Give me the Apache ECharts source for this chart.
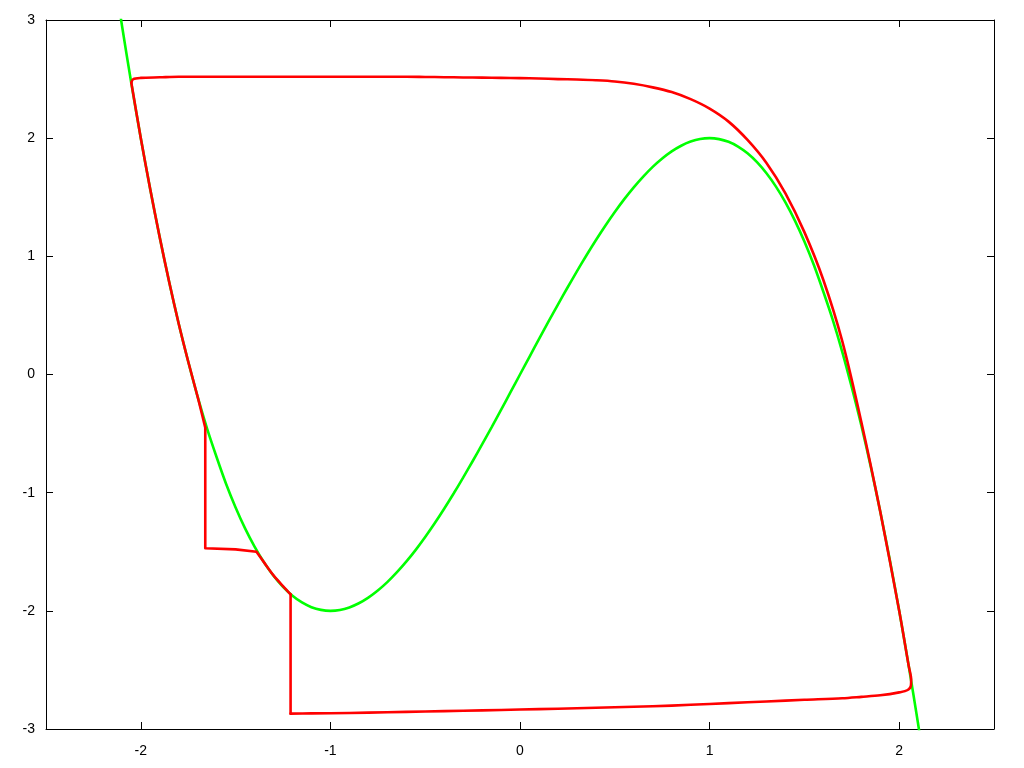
<!DOCTYPE html>
<html>
<head>
<meta charset="utf-8">
<script src="https://cdn.jsdelivr.net/npm/echarts@6/dist/echarts.min.js"></script>
<style>
html,body{margin:0;padding:0;background:#fff;}
#chart{width:1024px;height:768px;}
</style>
</head>
<body>
<div id="chart"></div>
<script>
// Green curve: points (x, y)
const greenX = [-2.2,-2.15,-2.1,-2.05,-2.0,-1.95,-1.9,-1.85,-1.8,-1.75,-1.7,-1.65,-1.6,-1.55,-1.5,-1.45,-1.4,-1.35,-1.3,-1.25,-1.2,-1.15,-1.1,-1.05,-1.0,-0.95,-0.9,-0.85,-0.8,-0.75,-0.7,-0.65,-0.6,-0.55,-0.5,-0.45,-0.4,-0.35,-0.3,-0.25,-0.2,-0.15,-0.1,-0.05,0.0,0.05,0.1,0.15,0.2,0.25,0.3,0.35,0.4,0.45,0.5,0.55,0.6,0.65,0.7,0.75,0.8,0.85,0.9,0.95,1.0,1.05,1.1,1.15,1.2,1.25,1.3,1.35,1.4,1.45,1.5,1.55,1.6,1.65,1.7,1.75,1.8,1.85,1.9,1.95,2.0,2.05,2.1,2.15,2.2];
const greenY = [4.05,3.49,2.96,2.465,2.0,1.565,1.16,0.78,0.43,0.11,-0.19,-0.46,-0.70,-0.926,-1.125,-1.302,-1.456,-1.590,-1.703,-1.797,-1.872,-1.929,-1.969,-1.992,-2.0,-1.993,-1.971,-1.936,-1.888,-1.828,-1.757,-1.675,-1.584,-1.484,-1.375,-1.259,-1.136,-1.007,-0.873,-0.734,-0.592,-0.447,-0.299,-0.150,0.0,0.150,0.299,0.447,0.592,0.734,0.873,1.007,1.136,1.259,1.375,1.484,1.584,1.675,1.757,1.828,1.888,1.936,1.971,1.993,2.0,1.992,1.969,1.929,1.872,1.797,1.703,1.590,1.456,1.302,1.125,0.926,0.70,0.46,0.19,-0.11,-0.43,-0.78,-1.16,-1.565,-2.0,-2.465,-2.96,-3.49,-4.05];

// Red closed path, in pieces
// top plateau, right branch, bottom return
const redArcX = [-2.05,-2.04,-2.0,-1.9,-1.8,-1.7,-1.6,-1.5,-1.4,-1.3,-1.2,-1.1,-1.0,-0.9,-0.8,-0.7,-0.6,-0.5,-0.4,-0.3,-0.2,-0.1,0.0,0.1,0.2,0.3,0.4,0.5,0.6,0.7,0.8,0.9,1.0,1.1,1.2,1.3,1.4,1.5,1.6,1.7,1.8,1.9,2.0,2.05,2.063,2.062,2.045,2.0,1.9,1.8,1.7,1.5,1.3,1.1,0.9,0.7,0.5,0.3,0.1,-0.1,-0.3,-0.5,-0.7,-0.9,-1.1,-1.21];
const redArcY = [2.47,2.50,2.51,2.515,2.52,2.52,2.52,2.52,2.52,2.52,2.52,2.52,2.52,2.52,2.52,2.52,2.52,2.518,2.516,2.514,2.512,2.51,2.508,2.505,2.50,2.496,2.49,2.48,2.46,2.43,2.39,2.33,2.25,2.14,1.985,1.79,1.533,1.205,0.80,0.28,-0.40,-1.16,-2.0,-2.465,-2.58,-2.63,-2.67,-2.69,-2.715,-2.728,-2.74,-2.753,-2.767,-2.781,-2.795,-2.808,-2.816,-2.824,-2.832,-2.839,-2.846,-2.852,-2.858,-2.864,-2.868,-2.87];
// first jump up
const redJump1X = [-1.21,-1.21];
const redJump1Y = [-2.87,-1.86];
// short run along the green curve
const redRun1X = [-1.21,-1.25,-1.30,-1.35,-1.39];
const redRun1Y = [-1.86,-1.79,-1.70,-1.59,-1.50];
// short step left and second jump up
const redJump2X = [-1.39,-1.50,-1.66,-1.66];
const redJump2Y = [-1.50,-1.48,-1.47,-0.45];
// run up the left branch back to the start
const redRun2X = [-1.66,-1.70,-1.75,-1.80,-1.85,-1.90,-1.95,-2.00,-2.05];
const redRun2Y = [-0.45,-0.19,0.11,0.43,0.78,1.16,1.565,2.0,2.47];

// Tick values
const xTicks = [-2,-1,0,1,2];
const yTicks = [-3,-2,-1,0,1,2,3];

const pairs = (xs, ys) => xs.map((x,i)=>[x, ys[i]]);

const font = {fontFamily:'Liberation Sans', fontSize:14, color:'#000'};
const chart = echarts.init(document.getElementById('chart'), null, {renderer:'canvas'});

function xAxis(pos, show){
  return {
    type:'value', position:pos, min:-2.5, max:2.5, splitNumber:5,
    axisLine:{show:true, onZero:false, lineStyle:{color:'#000', width:1}},
    axisTick:{show:true, inside:true, length:7, lineStyle:{color:'#000'}},
    splitLine:{show:false},
    axisLabel:Object.assign({show:show, margin:15,
      formatter:v=> xTicks.indexOf(Math.round(v*1000)/1000) >= 0 ? String(v) : ''}, font)
  };
}
function yAxis(pos, show){
  return {
    type:'value', position:pos, min:-3, max:3, interval:1,
    axisLine:{show:true, onZero:false, lineStyle:{color:'#000', width:1}},
    axisTick:{show:true, inside:true, length:7, lineStyle:{color:'#000'}},
    splitLine:{show:false},
    axisLabel:Object.assign({show:show, margin:11,
      formatter:v=> yTicks.indexOf(v) >= 0 ? String(v) : ''}, font)
  };
}

const redStyle = {color:'#ff0000', width:2.6, join:'round', cap:'round'};
function redSeries(data, smooth){
  return {type:'line', data:data, showSymbol:false, smooth:smooth, clip:true, z:3,
          lineStyle:redStyle, itemStyle:{color:'#ff0000'}};
}

chart.setOption({
  animation:false,
  backgroundColor:'#fff',
  grid:{left:46, right:30, top:20, bottom:39, containLabel:false},
  xAxis:[xAxis('bottom', true), xAxis('top', false)],
  yAxis:[yAxis('left', true), yAxis('right', false)],
  series:[
    {type:'line', data:pairs(greenX, greenY), showSymbol:false, smooth:0.3, clip:true, z:2,
     lineStyle:{color:'#00ff00', width:2.6}, itemStyle:{color:'#00ff00'}},
    redSeries(pairs(redArcX, redArcY), 0.3),
    redSeries(pairs(redJump1X, redJump1Y), false),
    redSeries(pairs(redRun1X, redRun1Y), 0.3),
    redSeries(pairs(redJump2X, redJump2Y), false),
    redSeries(pairs(redRun2X, redRun2Y), 0.3)
  ]
});
</script>
</body>
</html>
